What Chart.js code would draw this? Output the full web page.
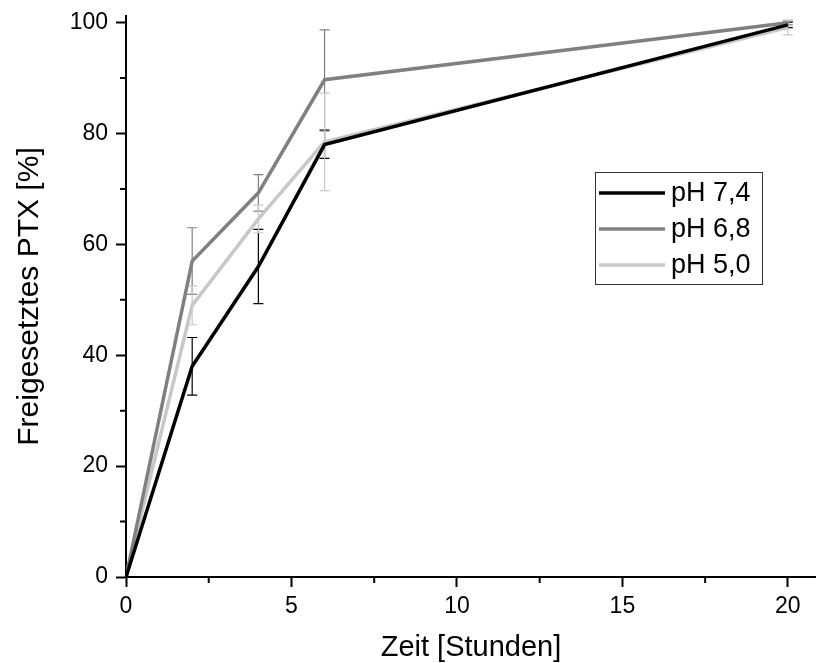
<!DOCTYPE html>
<html>
<head>
<meta charset="utf-8">
<script src="https://cdn.jsdelivr.net/npm/chart.js@4.4.1/dist/chart.umd.min.js"></script>
<style>
  body { margin: 0; background: #fff; }
  #wrap { width: 816px; height: 663px; }
</style>
</head>
<body>
<div id="wrap"><canvas id="myChart" width="816" height="663"></canvas></div>
<script>
// time points (hours)
const hours = [0, 2, 4, 6, 20];

const seriesNames = ["pH 7,4", "pH 6,8", "pH 5,0"];
const seriesColors = ["#000000", "#808080", "#c8c8c8"];

// released PTX in %
const ph74 = [0, 38, 56, 78, 99.6];
const ph68 = [0, 57, 69.3, 89.7, 100];
const ph50 = [0, 49, 64.6, 78.5, 99.1];

// standard deviations
const ph74Err = [0, 5.2, 6.7, 2.5, 0.5];
const ph68Err = [0, 6, 3.3, 9, 0.4];
const ph50Err = [0, 3.5, 2.5, 8.8, 1.3];

const xTicks = [0, 5, 10, 15, 20];
const xMinor = [2.5, 7.5, 12.5, 17.5];
const yTicks = [0, 20, 40, 60, 80, 100];
const yMinor = [10, 30, 50, 70, 90];

const allValues = [ph74, ph68, ph50];
const allErrs = [ph74Err, ph68Err, ph50Err];

function toPoints(vals) {
    return hours.map((h, i) => ({ x: h, y: vals[i] }));
}

const datasets = [];
for (let i = 0; i < allValues.length; i++) {
    datasets.push({
        label: seriesNames[i],
        data: toPoints(allValues[i]),
        errors: allErrs[i],
        borderColor: seriesColors[i],
        backgroundColor: seriesColors[i],
        borderWidth: 3.5,
        pointRadius: 0,
        tension: 0,
        fill: false
    });
}

// error bars, drawn below the lines
const errorBars = {
    id: "errorBars",
    beforeDatasetsDraw(chart) {
        const ctx = chart.ctx;
        const xs = chart.scales.x, ys = chart.scales.y;
        ctx.save();
        ctx.lineWidth = 1.2;
        chart.data.datasets.forEach(ds => {
            ctx.strokeStyle = ds.borderColor;
            ds.data.forEach((p, i) => {
                const e = ds.errors[i];
                if (!e) return;
                const px = xs.getPixelForValue(p.x);
                const top = ys.getPixelForValue(p.y + e);
                const bot = ys.getPixelForValue(p.y - e);
                ctx.beginPath();
                ctx.moveTo(px, top); ctx.lineTo(px, bot);
                ctx.moveTo(px - 5, top); ctx.lineTo(px + 5, top);
                ctx.moveTo(px - 5, bot); ctx.lineTo(px + 5, bot);
                ctx.stroke();
            });
        });
        ctx.restore();
    }
};

// short minor ticks outside the axes
const minorTicks = {
    id: "minorTicks",
    afterDraw(chart) {
        const ctx = chart.ctx;
        const xs = chart.scales.x, ys = chart.scales.y;
        const area = chart.chartArea;
        ctx.save();
        ctx.strokeStyle = "#000";
        ctx.lineWidth = 2;
        ctx.beginPath();
        xMinor.forEach(v => {
            const px = xs.getPixelForValue(v);
            ctx.moveTo(px, area.bottom); ctx.lineTo(px, area.bottom + 6);
        });
        yMinor.forEach(v => {
            const py = ys.getPixelForValue(v);
            ctx.moveTo(area.left, py); ctx.lineTo(area.left - 6, py);
        });
        ctx.stroke();
        ctx.restore();
    }
};

// boxed legend inside the plot
const boxLegend = {
    id: "boxLegend",
    afterDraw(chart) {
        const ctx = chart.ctx;
        const left = 595, top = 172, w = 167, h = 112;
        ctx.save();
        ctx.fillStyle = "#fff";
        ctx.fillRect(left, top, w, h);
        ctx.strokeStyle = "#333";
        ctx.lineWidth = 1;
        ctx.strokeRect(left + 0.5, top + 0.5, w, h);
        ctx.font = "27px 'Liberation Sans', Arial, sans-serif";
        ctx.textBaseline = "middle";
        chart.data.datasets.forEach((ds, i) => {
            const y = top + 21 + i * 36;
            ctx.strokeStyle = ds.borderColor;
            ctx.lineWidth = 3.5;
            ctx.beginPath();
            ctx.moveTo(left + 4, y); ctx.lineTo(left + 70, y);
            ctx.stroke();
            ctx.fillStyle = "#000";
            ctx.fillText(ds.label, left + 76, y + 1);
        });
        ctx.restore();
    }
};

const canvas = document.getElementById("myChart");
const myChart = new Chart(canvas, {
    type: "line",
    data: { datasets: datasets },
    options: {
        responsive: false,
        animation: false,
        layout: { padding: { top: 16, right: 0, left: 0, bottom: 0 } },
        plugins: { legend: { display: false }, tooltip: { enabled: false } },
        scales: {
            x: {
                type: "linear",
                min: 0,
                max: 20.85,
                afterBuildTicks: s => { s.ticks = xTicks.map(v => ({ value: v })); },
                afterFit: s => { s.height = 86; },
                border: { color: "#000", width: 2 },
                grid: { drawOnChartArea: false, tickLength: 10, tickColor: "#000", tickWidth: 2 },
                ticks: { color: "#000", padding: 6, maxRotation: 0, font: { family: "'Liberation Sans', Arial", size: 23 } },
                title: {
                    display: true,
                    text: "Zeit [Stunden]",
                    color: "#000",
                    padding: { top: 0, bottom: -2 },
                    font: { family: "'Liberation Sans', Arial", size: 29 }
                }
            },
            y: {
                type: "linear",
                min: 0,
                max: 101.2,
                afterBuildTicks: s => { s.ticks = yTicks.map(v => ({ value: v })); },
                afterFit: s => { s.width = 126; s.paddingTop = 0; },
                border: { color: "#000", width: 2 },
                grid: { drawOnChartArea: false, tickLength: 10, tickColor: "#000", tickWidth: 2 },
                ticks: { color: "#000", padding: 8, font: { family: "'Liberation Sans', Arial", size: 23 } },
                title: {
                    display: true,
                    text: "Freigesetztes PTX [%]",
                    color: "#000",
                    padding: { top: 12, bottom: 0 },
                    font: { family: "'Liberation Sans', Arial", size: 30 }
                }
            }
        }
    },
    plugins: [errorBars, minorTicks, boxLegend]
});
</script>
</body>
</html>
